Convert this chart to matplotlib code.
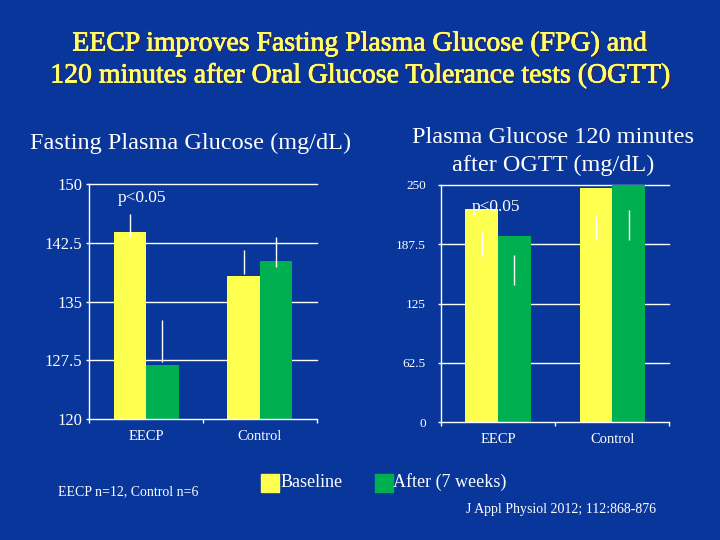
import matplotlib.pyplot as plt
import matplotlib.patheffects as pe
import numpy as np

# data
categories = ['EECP', 'Control']

fpg_baseline = [143.9, 138.3]
fpg_after = [126.9, 140.2]
fpg_base_lo = [143.2, 138.5]
fpg_base_hi = [146.2, 141.6]
fpg_after_lo = [127.3, 139.4]
fpg_after_hi = [132.6, 143.2]

ogtt_baseline = [224.1, 246.5]
ogtt_after = [196.0, 250.0]
ogtt_base_lo = [175.0, 191.8]
ogtt_base_hi = [200.5, 217.0]
ogtt_after_lo = [144.5, 191.8]
ogtt_after_hi = [176.0, 223.4]

fpg_ticks = [120, 127.5, 135, 142.5, 150]
fpg_ticklabels = ['120', '127.5', '135', '142.5', '150']
ogtt_ticks = [0, 62.5, 125, 187.5, 250]
ogtt_ticklabels = ['0', '62.5', '125', '187.5', '250']

bg = '#08369a'
yellow = '#ffff50'
green = '#00b050'
serif = 'Liberation Serif'

plt.rcParams['font.family'] = serif

fig = plt.figure(figsize=(7.2, 5.4), dpi=100)
fig.patch.set_facecolor(bg)

W, H = 720.0, 540.0


def make_axes(x0, y0, x1, y1):
    return fig.add_axes([x0 / W, 1 - y1 / H, (x1 - x0) / W, (y1 - y0) / H])


def draw_chart(ax, base, after, blo, bhi, alo, ahi, ticks, ticklabels, ysize, ypad):
    x = np.arange(len(categories))
    w = 1 / 3.5
    floor = ticks[0]
    ax.set_facecolor(bg)
    ax.bar(x - w / 2, np.array(base) - floor, w, bottom=floor, color=yellow, zorder=2)
    ax.bar(x + w / 2, np.array(after) - floor, w, bottom=floor, color=green, zorder=2)
    ax.vlines(x - w / 2, blo, bhi, color='white', lw=1, zorder=3)
    ax.vlines(x + w / 2, alo, ahi, color='white', lw=1, zorder=3)
    ax.set_xlim(-0.5, 1.5)
    ax.set_ylim(ticks[0], ticks[-1])
    ax.set_yticks(ticks)
    ax.set_yticklabels(ticklabels)
    for t in ticks[1:]:
        ax.axhline(t, color='white', lw=1, zorder=1, clip_on=False)
    ax.set_xticks(x)
    ax.set_xticklabels(categories)
    ax.set_xticks([-0.5, 0.5, 1.5], minor=True)
    ax.tick_params(axis='x', which='major', length=0, pad=7.5,
                   labelsize=10.5, labelcolor='white')
    ax.tick_params(axis='x', which='minor', length=3, color='white', width=1)
    ax.tick_params(axis='y', length=2, color='white', width=1, pad=ypad,
                   labelsize=ysize, labelcolor='white')
    for s in ['top', 'right']:
        ax.spines[s].set_visible(False)
    for s in ['left', 'bottom']:
        ax.spines[s].set_color('white')
        ax.spines[s].set_linewidth(1)
        ax.spines[s].set_zorder(4)


ax1 = make_axes(89.3, 184, 316.7, 419.3)
draw_chart(ax1, fpg_baseline, fpg_after, fpg_base_lo, fpg_base_hi,
           fpg_after_lo, fpg_after_hi, fpg_ticks, fpg_ticklabels, 12, 3)
ax1.text(0.126, 0.94, 'p<0.05', transform=ax1.transAxes, color='white',
         fontsize=12.5, ha='left', va='center', zorder=5)

ax2 = make_axes(441, 184.7, 669.3, 422.3)
draw_chart(ax2, ogtt_baseline, ogtt_after, ogtt_base_lo, ogtt_base_hi,
           ogtt_after_lo, ogtt_after_hi, ogtt_ticks, ogtt_ticklabels, 9.5, 9)
ax2.text(0.135, 0.905, 'p<0.05', transform=ax2.transAxes, color='white',
         fontsize=12.5, ha='left', va='center', zorder=5)

shadow = [pe.withSimplePatchShadow(offset=(1.2, -1.2), shadow_rgbFace='#4a1f4a', alpha=0.9),
          pe.withStroke(linewidth=0.5, foreground='#ffff66')]
fig.text(0.5, 1 - 44 / H, 'EECP improves Fasting Plasma Glucose (FPG) and',
         ha='center', va='center', fontsize=20, color='#ffff66', path_effects=shadow)
fig.text(0.5, 1 - 76 / H, '120 minutes after Oral Glucose Tolerance tests (OGTT)',
         ha='center', va='center', fontsize=20, color='#ffff66', path_effects=shadow)

fig.text(30 / W, 1 - 143 / H, 'Fasting Plasma Glucose (mg/dL)', ha='left',
         va='center', fontsize=17.5, color='white')
fig.text(553 / W, 1 - 137 / H, 'Plasma Glucose 120 minutes', ha='center',
         va='center', fontsize=17.5, color='white')
fig.text(553 / W, 1 - 165 / H, 'after OGTT (mg/dL)', ha='center',
         va='center', fontsize=17.5, color='white')

# legend drawn by hand to sit like the slide
fig.patches.append(plt.Rectangle((260.5 / W, 1 - 491.7 / H), 18 / W, 18 / H,
                                 transform=fig.transFigure, color=yellow))
fig.text(281 / W, 1 - 482.5 / H, 'Baseline', ha='left', va='center',
         fontsize=13, color='white')
fig.patches.append(plt.Rectangle((374.7 / W, 1 - 491.7 / H), 18 / W, 18 / H,
                                 transform=fig.transFigure, color=green))
fig.text(393 / W, 1 - 482.5 / H, 'After (7 weeks)', ha='left', va='center',
         fontsize=13, color='white')

fig.text(58 / W, 1 - 492 / H, 'EECP n=12, Control n=6', ha='left',
         va='center', fontsize=10, color='white')
fig.text(466 / W, 1 - 510 / H, 'J Appl Physiol 2012; 112:868-876', ha='left',
         va='center', fontsize=10, color='white')

fig.savefig('out.png', dpi=100, facecolor=bg)
